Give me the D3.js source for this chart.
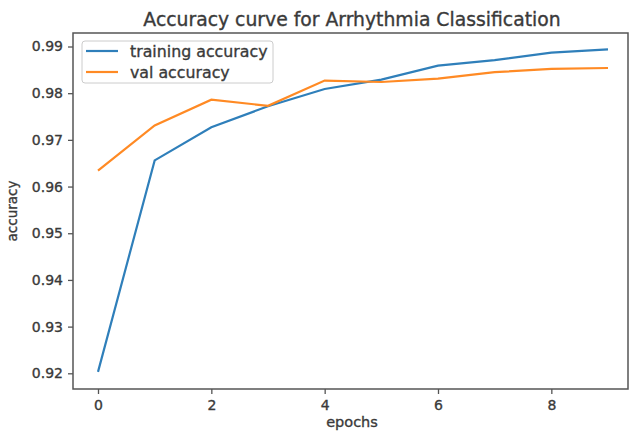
<!doctype html>
<html lang="en">
<head>
<meta charset="utf-8">
<script src="https://d3js.org/d3.v7.min.js"></script>
<style>
  body { margin: 0; background: #fff; }
  text { font-family: "DejaVu Sans", sans-serif; fill: #3a3a3a; stroke: #3a3a3a; stroke-width: 0.35px; }
</style>
</head>
<body>
<div id="chart"></div>
<script>
// data
var epochs = [0, 1, 2, 3, 4, 5, 6, 7, 8, 9];
var trainAcc = [0.9203, 0.9656, 0.9727, 0.9772, 0.9809, 0.9829, 0.9859, 0.9871, 0.9887, 0.9894];
var valAcc = [0.9634, 0.9731, 0.9786, 0.9773, 0.9827, 0.9824, 0.9831, 0.9845, 0.9852, 0.9854];
var xTicks = [0, 2, 4, 6, 8];
var yTicks = [0.92, 0.93, 0.94, 0.95, 0.96, 0.97, 0.98, 0.99];

var W = 631, H = 432;
var margin = {top: 33, right: 3, bottom: 43, left: 73},
    width = W - margin.left - margin.right,
    height = H - margin.top - margin.bottom;

var svg = d3.select("#chart").append("svg")
    .attr("width", W).attr("height", H);

var g = svg.append("g")
    .attr("transform", "translate(" + margin.left + "," + margin.top + ")");

// epoch 0 at x≈98, epoch 9 at x≈608
var x = d3.scaleLinear().domain([0, 9]).range([98 - margin.left, 608 - margin.left]);
// 0.99 at y≈46.5, 0.92 at y≈373
var y = d3.scaleLinear().domain([0.92, 0.99]).range([373.3 - margin.top, 46.5 - margin.top]);

// frame
g.append("rect")
    .attr("width", width).attr("height", height)
    .attr("fill", "none").attr("stroke", "#555").attr("stroke-width", 1.5);

var xAxis = g.append("g")
    .attr("transform", "translate(0," + height + ")")
    .call(d3.axisBottom(x).tickValues(xTicks).tickSize(5).tickPadding(6).tickFormat(d3.format("d")));
var yAxis = g.append("g")
    .call(d3.axisLeft(y).tickValues(yTicks).tickSize(5).tickPadding(5).tickFormat(d3.format(".2f")));
[xAxis, yAxis].forEach(function(a) {
    a.select(".domain").remove();
    a.selectAll("line").attr("stroke", "#555").attr("stroke-width", 1.3);
    a.selectAll("text").style("font-family", "DejaVu Sans, sans-serif").style("font-size", "14px")
        .attr("fill", "#3a3a3a");
});

var line = d3.line()
    .x(function(d, i) { return x(epochs[i]); })
    .y(function(d) { return y(d); });

g.append("path").datum(trainAcc)
    .attr("fill", "none").attr("stroke", "#2f7fba").attr("stroke-width", 2.2)
    .attr("d", line);
g.append("path").datum(valAcc)
    .attr("fill", "none").attr("stroke", "#ff8a24").attr("stroke-width", 2.2)
    .attr("d", line);

// legend
var legend = svg.append("g").attr("transform", "translate(82,41)");
legend.append("rect")
    .attr("width", 191).attr("height", 42).attr("rx", 3)
    .attr("fill", "#fff").attr("fill-opacity", 0.8)
    .attr("stroke", "#ccc");
var items = [{name: "training accuracy", color: "#2f7fba"}, {name: "val accuracy", color: "#ff8a24"}];
items.forEach(function(it, i) {
    var yy = 10 + i * 21;
    legend.append("line")
        .attr("x1", 4).attr("x2", 36).attr("y1", yy).attr("y2", yy)
        .attr("stroke", it.color).attr("stroke-width", 2.2);
    legend.append("text")
        .attr("x", 48).attr("y", yy).attr("dy", "0.35em")
        .style("font-size", "15.8px").text(it.name);
});

// title and axis labels
svg.append("text")
    .attr("x", 352).attr("y", 26)
    .attr("text-anchor", "middle")
    .style("font-size", "18.8px")
    .text("Accuracy curve for Arrhythmia Classification");

svg.append("text")
    .attr("x", 352).attr("y", 427)
    .attr("text-anchor", "middle")
    .style("font-size", "14.5px")
    .text("epochs");

svg.append("text")
    .attr("transform", "translate(16.5," + 211 + ") rotate(-90)")
    .attr("text-anchor", "middle")
    .style("font-size", "13.5px")
    .text("accuracy");
</script>
</body>
</html>
